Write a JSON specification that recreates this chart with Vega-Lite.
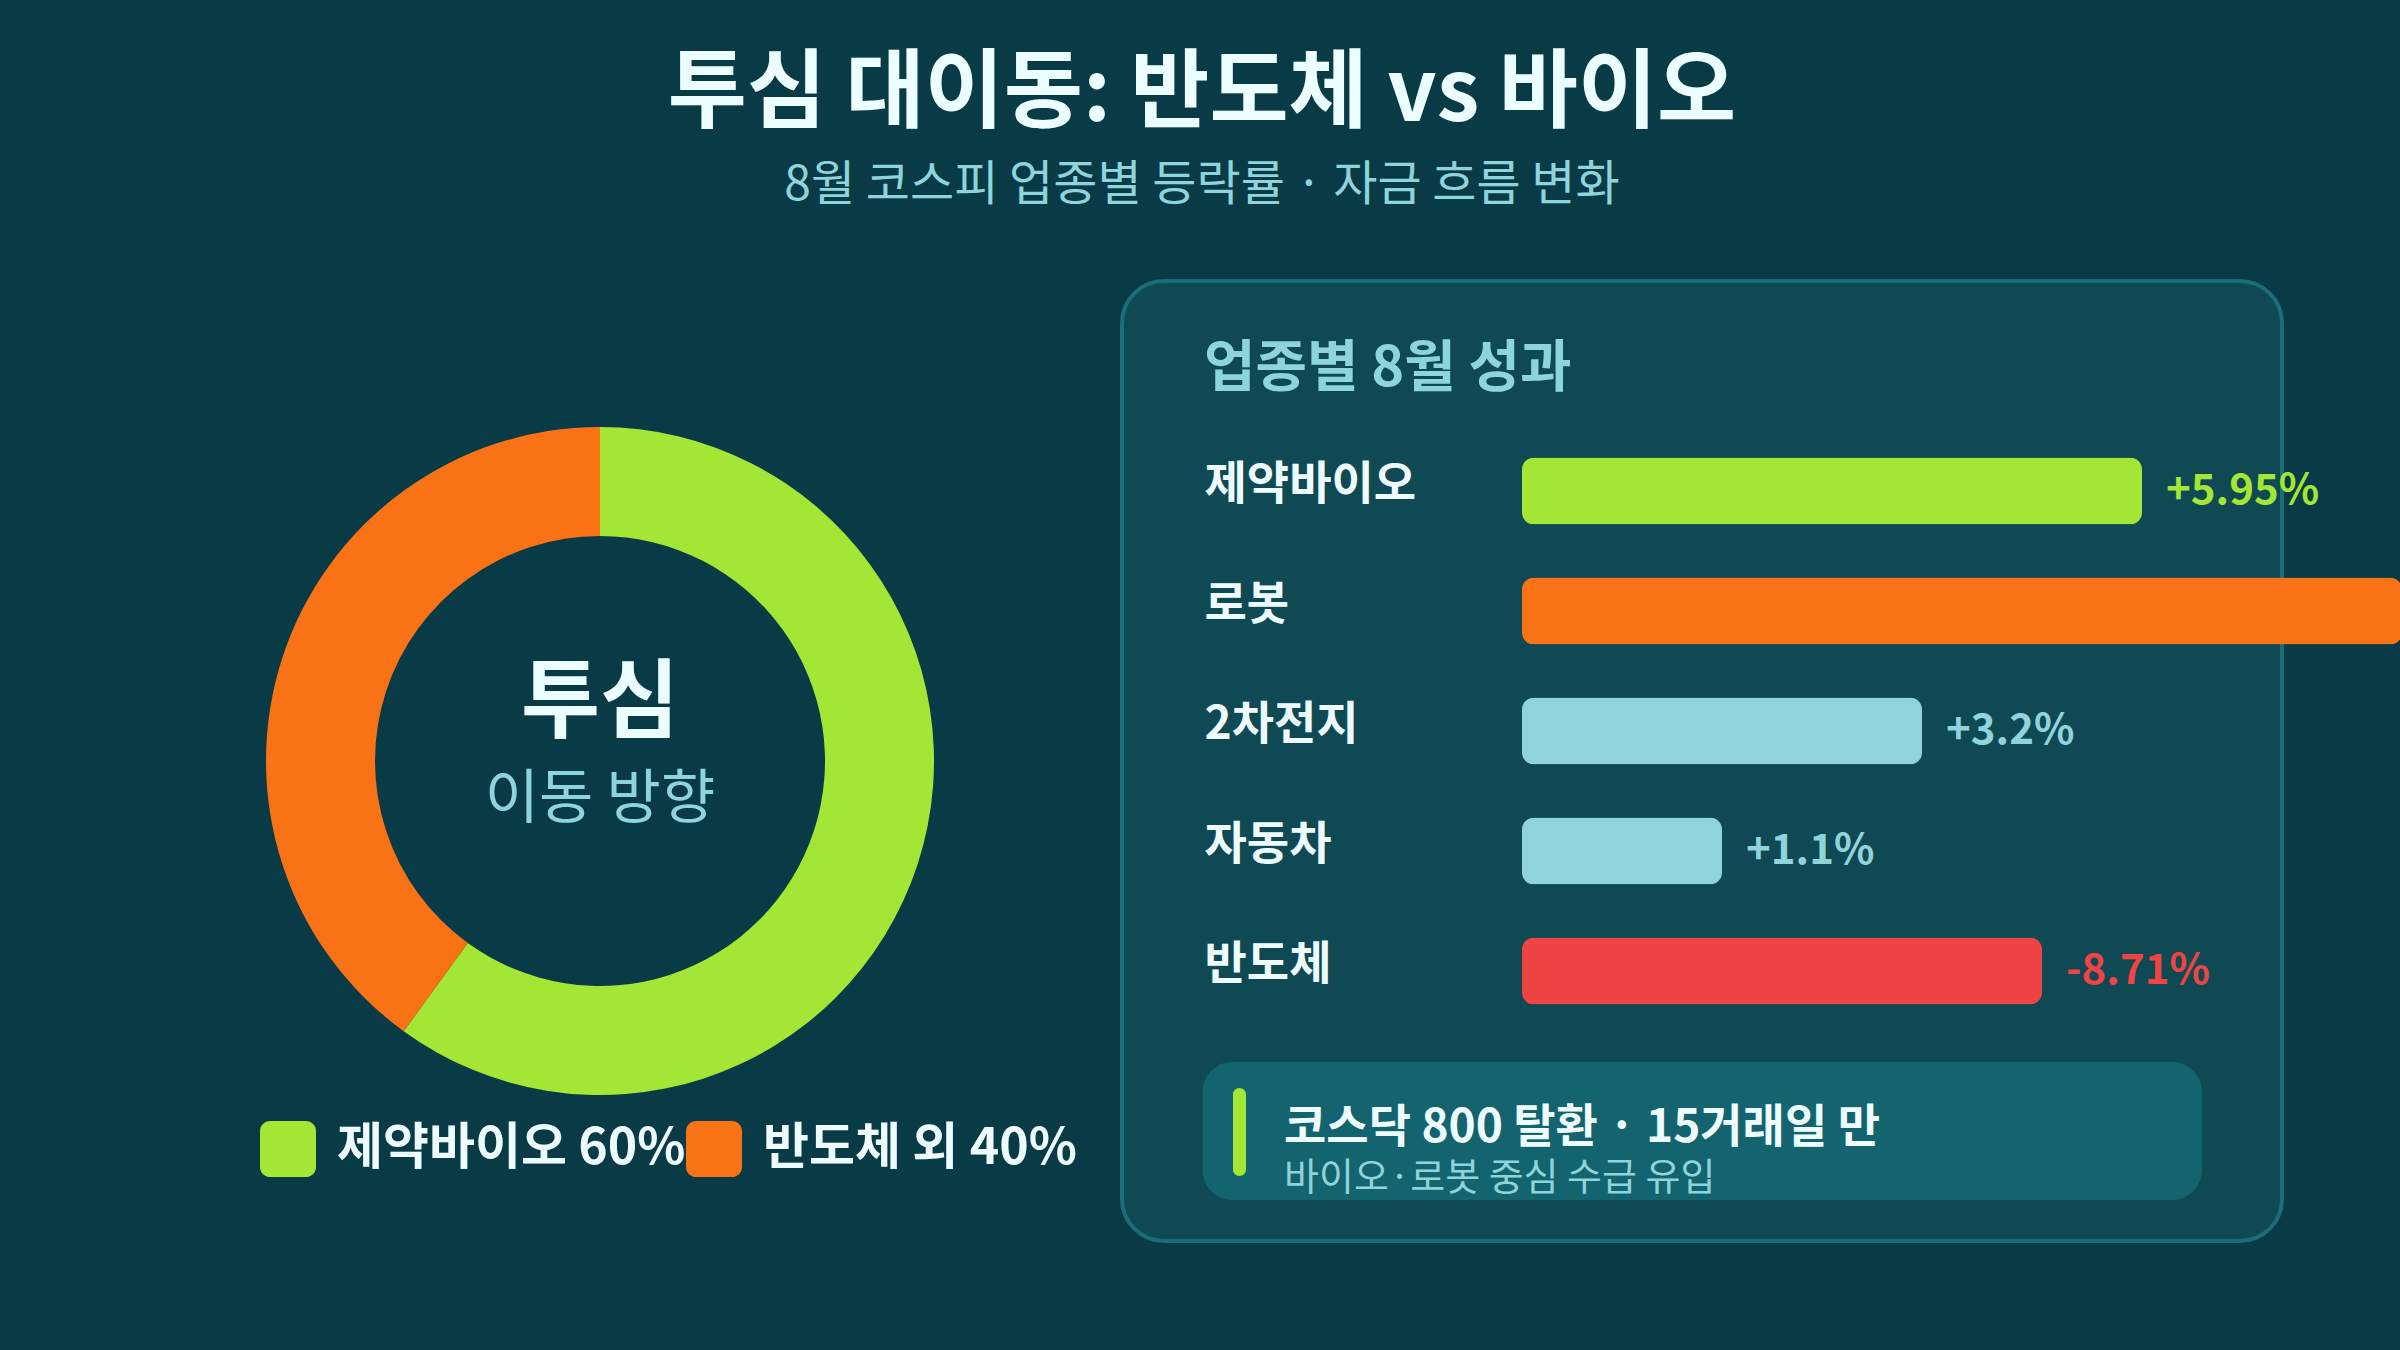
{
  "$schema": "https://vega.github.io/schema/vega-lite/v6.json",
  "background": "#083b46",
  "padding": {"left": 80, "top": 52, "right": 0, "bottom": 110},
  "config": {
    "font": "Noto Sans CJK KR",
    "view": {"stroke": null},
    "axis": {"grid": false, "domain": false, "ticks": false}
  },
  "title": {
    "text": "투심 대이동: 반도체 vs 바이오",
    "subtitle": "8월 코스피 업종별 등락률 · 자금 흐름 변화",
    "anchor": "middle",
    "frame": "bounds",
    "dx": -40,
    "offset": 68,
    "fontSize": 86,
    "fontWeight": "bold",
    "color": "#ecfeff",
    "subtitleFontSize": 48,
    "subtitleFontWeight": "normal",
    "subtitleColor": "#8fd3db",
    "subtitlePadding": 23
  },
  "resolve": {"scale": {"color": "independent"}},
  "spacing": 0,
  "hconcat": [
    {
      "width": 1040,
      "height": 960,
      "layer": [
        {
          "data": {"values": [
            {"sector": "제약바이오", "label": "제약바이오 60%", "share": 60},
            {"sector": "반도체 외", "label": "반도체 외 40%", "share": 40}
          ]},
          "mark": {"type": "arc", "innerRadius": 225, "outerRadius": 334},
          "encoding": {
            "theta": {"field": "share", "type": "quantitative", "stack": true},
            "order": {"field": "share", "type": "quantitative", "sort": "descending"},
            "color": {
              "field": "label",
              "type": "nominal",
              "scale": {"domain": ["제약바이오 60%", "반도체 외 40%"], "range": ["#a3e635", "#f97316"]},
              "legend": {
                "orient": "none",
                "legendX": 180,
                "legendY": 840,
                "direction": "horizontal",
                "title": null,
                "padding": 0,
                "symbolType": "M-0.64,-1H0.64A0.36,0.36,0,0,1,1,-0.64V0.64A0.36,0.36,0,0,1,0.64,1H-0.64A0.36,0.36,0,0,1,-1,0.64V-0.64A0.36,0.36,0,0,1,-0.64,-1Z",
                "symbolSize": 3136,
                "symbolStrokeWidth": 0,
                "symbolOpacity": 1,
                "labelFontSize": 50,
                "labelFontWeight": "bold",
                "labelColor": "#effcff",
                "labelFont": "Noto Sans CJK KR",
                "labelOffset": 21,
                "labelLimit": 600,
                "columnPadding": -14
              }
            }
          }
        },
        {
          "data": {"values": [{"t": "투심"}]},
          "mark": {"type": "text", "dy": -56, "fontSize": 86, "fontWeight": "bold", "color": "#ecfeff", "baseline": "middle", "align": "center"},
          "encoding": {"text": {"field": "t", "type": "nominal"}}
        },
        {
          "data": {"values": [{"t": "이동 방향"}]},
          "mark": {"type": "text", "dy": 39, "fontSize": 59, "fontWeight": "normal", "color": "#8fd3db", "baseline": "middle", "align": "center"},
          "encoding": {"text": {"field": "t", "type": "nominal"}}
        }
      ]
    },
    {
      "width": 1160,
      "height": 960,
      "view": {"fill": "#0f4953", "stroke": "#1b6d77", "strokeWidth": 4, "cornerRadius": 42},
      "title": {
        "text": "업종별 8월 성과",
        "anchor": "start",
        "frame": "group",
        "offset": -144,
        "dx": 82,
        "baseline": "middle",
        "fontSize": 56,
        "fontWeight": "bold",
        "color": "#8fd3db"
      },
      "layer": [
        {
          "data": {"values": [
            {"sector": "제약바이오", "bar": 62, "label": "+5.95%"},
            {"sector": "로봇", "bar": 88, "label": null},
            {"sector": "2차전지", "bar": 40, "label": "+3.2%"},
            {"sector": "자동차", "bar": 20, "label": "+1.1%"},
            {"sector": "반도체", "bar": 52, "label": "-8.71%"}
          ]},
          "layer": [
            {
              "mark": {"type": "bar", "cornerRadius": 12},
              "encoding": {
                "x": {"field": "bar", "type": "quantitative", "scale": {"domain": [-40, 76], "nice": false, "zero": false}, "axis": null},
                "y": {
                  "field": "sector",
                  "type": "nominal",
                  "scale": {"domain": ["머리", "제약바이오", "로봇", "2차전지", "자동차", "반도체", "비고"], "paddingInner": 0.4417, "paddingOuter": 0.7208, "align": 0.3266},
                  "axis": {
                    "orient": "left",
                    "offset": -82,
                    "values": ["제약바이오", "로봇", "2차전지", "자동차", "반도체"],
                    "labelAlign": "left",
                    "labelBaseline": "middle",
                    "labelPadding": 0,
                    "labelOffset": -6,
                    "tickSize": 0,
                    "ticks": false,
                    "domain": false,
                    "labelFontSize": 46,
                    "labelFontWeight": "bold",
                    "labelColor": "#effcff",
                    "labelFont": "Noto Sans CJK KR",
                    "labelLimit": 400,
                    "title": null
                  }
                },
                "color": {
                  "field": "sector",
                  "type": "nominal",
                  "scale": {"domain": ["제약바이오", "로봇", "2차전지", "자동차", "반도체"], "range": ["#a3e635", "#f97316", "#90d3da", "#90d3da", "#ef4444"]},
                  "legend": null
                }
              }
            },
            {
              "transform": [{"filter": "isValid(datum.label)"}],
              "mark": {"type": "text", "align": "left", "baseline": "middle", "dx": 24, "fontSize": 42, "fontWeight": "bold"},
              "encoding": {
                "x": {"field": "bar", "type": "quantitative"},
                "y": {"field": "sector", "type": "nominal"},
                "text": {"field": "label", "type": "nominal"},
                "color": {"field": "sector", "type": "nominal", "legend": null}
              }
            }
          ]
        },
        {
          "data": {"values": [
            {"sector": "비고", "headline": "코스닥 800 탈환 · 15거래일 만", "detail": "바이오·로봇 중심 수급 유입"}
          ]},
          "layer": [
            {
              "mark": {"type": "bar", "height": 138, "yOffset": 40, "cornerRadius": 30, "color": "#13646e"},
              "encoding": {
                "x": {"datum": -31.95, "type": "quantitative"},
                "x2": {"datum": 68},
                "y": {"field": "sector", "type": "nominal"}
              }
            },
            {
              "mark": {"type": "bar", "height": 88, "yOffset": 41, "cornerRadius": 7, "color": "#a3e635"},
              "encoding": {
                "x": {"datum": -28.9, "type": "quantitative"},
                "x2": {"datum": -27.6},
                "y": {"field": "sector", "type": "nominal"}
              }
            },
            {
              "mark": {"type": "text", "align": "left", "baseline": "middle", "dy": 37, "fontSize": 46, "fontWeight": "bold", "color": "#effcff"},
              "encoding": {
                "x": {"datum": -23.8, "type": "quantitative"},
                "y": {"field": "sector", "type": "nominal"},
                "text": {"field": "headline", "type": "nominal"}
              }
            },
            {
              "mark": {"type": "text", "align": "left", "baseline": "middle", "dy": 88, "fontSize": 38, "fontWeight": "normal", "color": "#8fd3db"},
              "encoding": {
                "x": {"datum": -23.8, "type": "quantitative"},
                "y": {"field": "sector", "type": "nominal"},
                "text": {"field": "detail", "type": "nominal"}
              }
            }
          ]
        }
      ]
    }
  ]
}
